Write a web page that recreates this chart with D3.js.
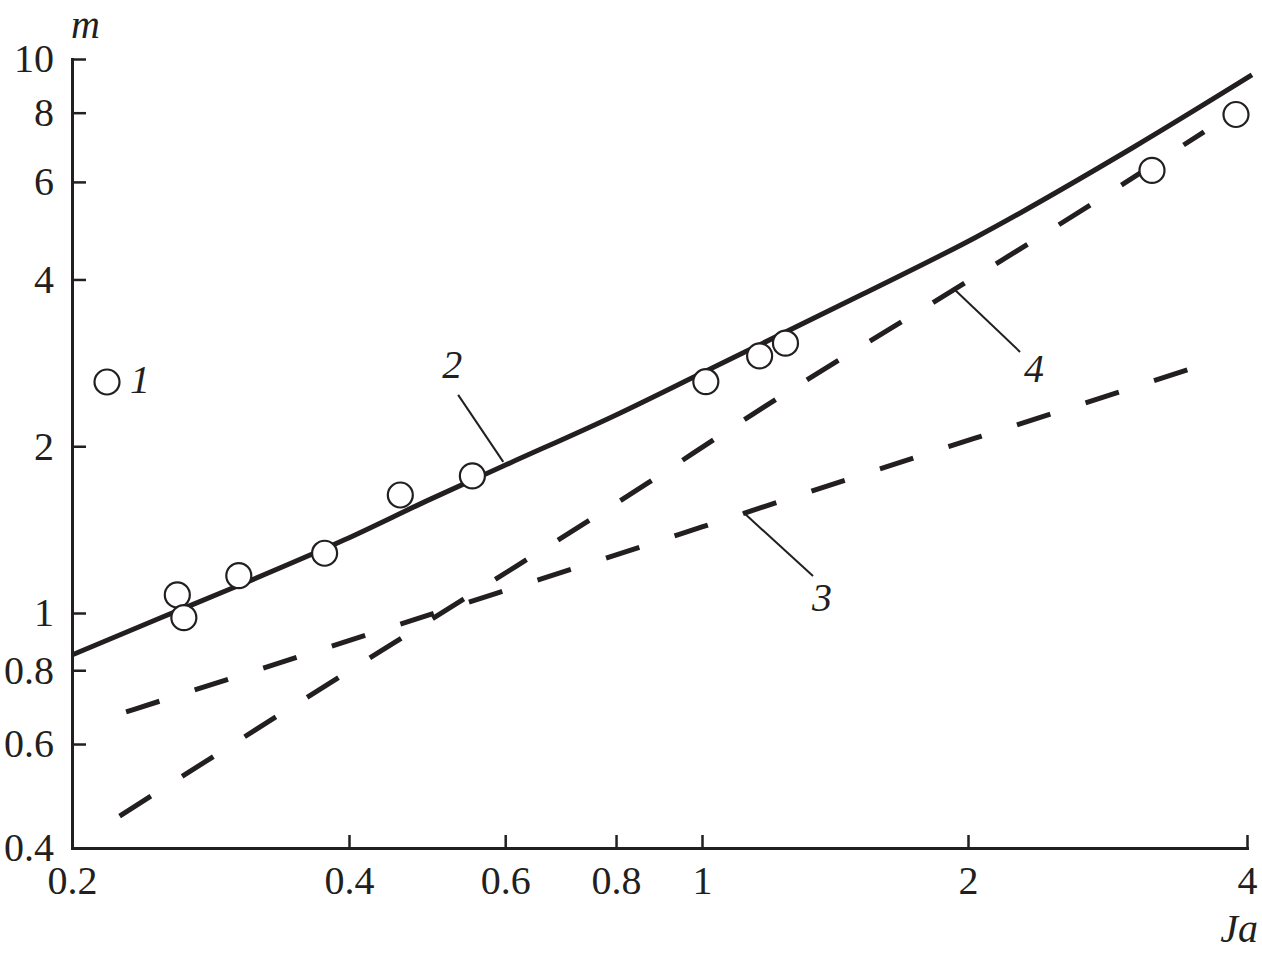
<!DOCTYPE html>
<html>
<head>
<meta charset="utf-8">
<script src="https://cdn.jsdelivr.net/npm/d3@7"></script>
<style>
  html, body { margin: 0; padding: 0; background: #fff; }
  svg { display: block; }
  text { font-family: "Liberation Serif", "Times New Roman", serif; fill: #231f20; }
</style>
</head>
<body>
<svg id="chart" width="1262" height="957"></svg>
<script>
// ---- Data ----
const xTicks = [0.2, 0.4, 0.6, 0.8, 1, 2, 4];
const xTickLabels = ["0.2", "0.4", "0.6", "0.8", "1", "2", "4"];
const yTicks = [0.4, 0.6, 0.8, 1, 2, 4, 6, 8, 10];
const yTickLabels = ["0.4", "0.6", "0.8", "1", "2", "4", "6", "8", "10"];

// series 1: experimental points
const expJa = [0.2603, 0.2646, 0.3036, 0.3763, 0.457, 0.551, 1.010, 1.162, 1.243, 3.159, 3.892];
const expM  = [1.078, 0.982, 1.168, 1.282, 1.633, 1.768, 2.615, 2.911, 3.07, 6.294, 7.94];

// series 2: solid curve
const curve2Ja = [0.2, 0.249, 0.298, 0.395, 0.495, 0.597, 0.8, 1.0, 1.517, 2.035, 3.02, 4.05];
const curve2M  = [0.849, 0.980, 1.107, 1.354, 1.607, 1.842, 2.278, 2.712, 3.756, 4.758, 6.937, 9.36];

// series 3: dashed (shallow)
const line3Ja = [0.229, 0.500, 0.859, 1.0, 2.035, 2.481, 3.491];
const line3M  = [0.68, 1.0, 1.321, 1.43, 2.068, 2.298, 2.766];

// series 4: dashed (steep)
const line4Ja = [0.2253, 0.3592, 0.5364, 0.870, 1.1147, 2.035, 2.449, 3.595];
const line4M  = [0.453, 0.718, 1.055, 1.719, 2.23, 4.045, 4.90, 7.39];

// curve labels: leader from [Ja, m] on curve to [Ja, m] near label
const labelNames = ["2", "3", "4"];
const leaderFromJa = [0.597, 1.1127, 1.923];
const leaderFromM  = [1.874, 1.521, 3.859];
const leaderToJa   = [0.531, 1.3354, 2.276];
const leaderToM    = [2.476, 1.166, 2.96];

// ---- Layout ----
const ink = "#231f20";
const svg = d3.select("#chart");

const x = d3.scaleLog().domain([0.2, 0.4, 1, 2, 4]).range([72, 349, 702, 968, 1247]);
const y = d3.scaleLog().domain([0.4, 1, 10]).range([848, 613, 59]);

// Axes
const gx = svg.append("g").attr("transform", "translate(0,848)")
  .call(d3.axisBottom(x).tickValues(xTicks)
    .tickFormat((d, i) => xTickLabels[i])
    .tickSizeInner(-13).tickSizeOuter(0).tickPadding(18));
const gy = svg.append("g").attr("transform", "translate(72,0)")
  .call(d3.axisLeft(y).tickValues(yTicks)
    .tickFormat((d, i) => yTickLabels[i])
    .tickSizeInner(-14).tickSizeOuter(0).tickPadding(18));

[gx, gy].forEach(g => {
  g.select(".domain").attr("stroke", ink).attr("stroke-width", 3).attr("stroke-linecap", "square");
  g.selectAll(".tick line").attr("stroke", ink).attr("stroke-width", 2.5);
  g.selectAll(".tick text").attr("font-size", 40)
    .attr("font-family", "'Liberation Serif', 'Times New Roman', serif").attr("fill", ink);
});

// Axis titles
svg.append("text").attr("x", 71).attr("y", 38)
  .attr("font-size", 40).attr("font-style", "italic").text("m");
svg.append("text").attr("x", 1258).attr("y", 942).attr("text-anchor", "end")
  .attr("font-size", 40).attr("font-style", "italic").text("Ja");

// Lines
const lineGen = d3.line().x(d => x(d[0])).y(d => y(d[1])).curve(d3.curveMonotoneX);

svg.append("path")
  .datum(curve2Ja.map((v, i) => [v, curve2M[i]]))
  .attr("d", lineGen)
  .attr("fill", "none").attr("stroke", ink).attr("stroke-width", 5);

svg.append("path")
  .datum(line3Ja.map((v, i) => [v, line3M[i]]))
  .attr("d", lineGen)
  .attr("fill", "none").attr("stroke", ink).attr("stroke-width", 5)
  .attr("stroke-dasharray", "35,37");

svg.append("path")
  .datum(line4Ja.map((v, i) => [v, line4M[i]]))
  .attr("d", lineGen)
  .attr("fill", "none").attr("stroke", ink).attr("stroke-width", 5)
  .attr("stroke-dasharray", "37,37");

// Experimental points
svg.append("g").selectAll("circle")
  .data(expJa.map((v, i) => [v, expM[i]]))
  .join("circle")
  .attr("cx", d => x(d[0])).attr("cy", d => y(d[1])).attr("r", 12.5)
  .attr("fill", "#fff").attr("stroke", ink).attr("stroke-width", 2.2);

// Legend (series 1)
svg.append("circle").attr("cx", 107).attr("cy", 382).attr("r", 12.5)
  .attr("fill", "#fff").attr("stroke", ink).attr("stroke-width", 2.2);
svg.append("text").attr("x", 130).attr("y", 393)
  .attr("font-size", 40).attr("font-style", "italic").text("1");

// Curve labels with leaders
const labelDx = [-6, 9, 14];
const labelDy = [-17, 35, 30];
labelNames.forEach((name, i) => {
  const x1 = x(leaderFromJa[i]), y1 = y(leaderFromM[i]);
  const x2 = x(leaderToJa[i]), y2 = y(leaderToM[i]);
  svg.append("line").attr("x1", x1).attr("y1", y1).attr("x2", x2).attr("y2", y2)
    .attr("stroke", ink).attr("stroke-width", 2);
  svg.append("text").attr("x", x2 + labelDx[i]).attr("y", y2 + labelDy[i])
    .attr("text-anchor", "middle").attr("font-size", 40).attr("font-style", "italic")
    .text(name);
});
</script>
</body>
</html>
